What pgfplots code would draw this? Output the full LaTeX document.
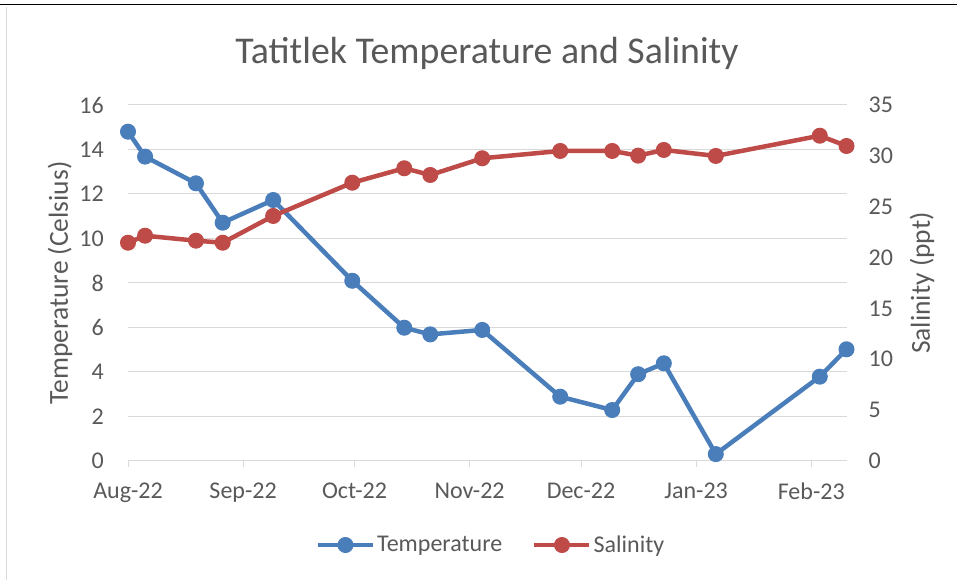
\documentclass[border=0pt]{standalone}
\usepackage{pgfplots}
\pgfplotsset{compat=1.18}
\usepackage{fontspec}
\setmainfont{Carlito}
\definecolor{tblue}{HTML}{4A7EBB}
\definecolor{tred}{HTML}{BE4B48}
\definecolor{txt}{HTML}{595959}
\definecolor{gridc}{HTML}{D9D9D9}
\pgfplotstableread{
day temp
0 14.8
4.6 13.68
18.3 12.48
25.5 10.71
39.1 11.73
60.4 8.10
74.4 5.99
81.4 5.69
95.4 5.89
116.4 2.89
130.4 2.29
137.4 3.90
144.3 4.39
158.3 0.31
186.3 3.79
193.5 5.02
}\temptable
\pgfplotstableread{
day sal
0 21.46
4.6 22.15
18.3 21.66
25.5 21.46
39.1 24.09
60.4 27.36
74.4 28.78
81.4 28.12
95.4 29.76
116.4 30.48
130.4 30.48
137.4 30.02
144.3 30.58
158.3 29.99
186.3 31.98
193.5 30.97
}\saltable
\pgfplotsset{
  common/.style={
    at={(128pt,119pt)}, anchor=south west,
    scale only axis, width=718.5pt, height=356pt,
    xmin=0, xmax=193.5,
    /pgf/number format/assume math mode=true,
    ticklabel style={font=\fontsize{24}{27}\selectfont, text=txt},
    label style={font=\fontsize{27.5}{31}\selectfont, text=txt},
  },
  legimg/.style={legend image code/.code={
    \draw[##1, mark repeat=2, mark phase=2] plot coordinates {(0pt,0pt) (27.5pt,0pt) (55pt,0pt)};}},
}
\begin{document}
\begin{tikzpicture}[x=1pt,y=1pt]
\useasboundingbox (0,0) rectangle (957,580);
\draw[black, line width=1.5pt] (0,575.5) -- (957,575.5);
\draw[gridc, line width=1pt] (6.5,573) -- (6.5,0);
\node[text=txt, font=\fontsize{37.8}{42}\selectfont] at (487,527) {Tatitlek Temperature and Salinity};
\begin{axis}[common,
  ymin=0, ymax=16, ytick={0,2,...,16},
  axis x line*=bottom, axis y line*=left,
  y axis line style={draw=none},
  x axis line style={gridc, line width=1pt},
  xtick={0,31,61,92,122,153,184},
  xticklabels={Aug-22,Sep-22,Oct-22,Nov-22,Dec-22,Jan-23,Feb-23},
  xtick style={gridc, line width=1pt},
  tick align=outside, major tick length=6pt,
  ytick style={draw=none},
  ymajorgrids, major grid style={gridc, line width=1pt},
  yticklabel style={anchor=east, inner sep=0pt, xshift=-18pt},
  xticklabel style={anchor=north, inner sep=0pt, yshift=-16pt},
  ylabel={Temperature (Celsius)},
  ylabel style={at={(axis description cs:-0.0946,0.5)}, anchor=center},
]
\addplot[tblue, line width=4.5pt, mark=*, mark size=7.5pt, mark options={solid, line width=1pt}] table[x=day, y=temp] {\temptable};
\end{axis}
\begin{axis}[common,
  ymin=0, ymax=35, ytick={0,5,...,35},
  axis x line=none, axis y line*=right,
  y axis line style={draw=none},
  ytick style={draw=none},
  yticklabel style={anchor=west, inner sep=0pt, xshift=22pt},
  ylabel={Salinity (ppt)},
  ylabel style={at={(axis description cs:1.105,0.5)}, anchor=center, rotate=0},
  legend columns=2,
  legend style={at={(axis description cs:0.5052,-0.236)}, anchor=center, draw=none, fill=none,
    font=\fontsize{24}{27}\selectfont, text=txt,
    /tikz/every even column/.append style={column sep=28pt}},
  legimg,
]
\addlegendimage{tblue, line width=4.5pt, mark=*, mark size=7.5pt, mark options={solid, line width=1pt}}
\addlegendentry{Temperature}
\addplot[tred, line width=4.5pt, mark=*, mark size=7.5pt, mark options={solid, line width=1pt}] table[x=day, y=sal] {\saltable};
\addlegendentry{Salinity}
\end{axis}
\end{tikzpicture}
\end{document}
